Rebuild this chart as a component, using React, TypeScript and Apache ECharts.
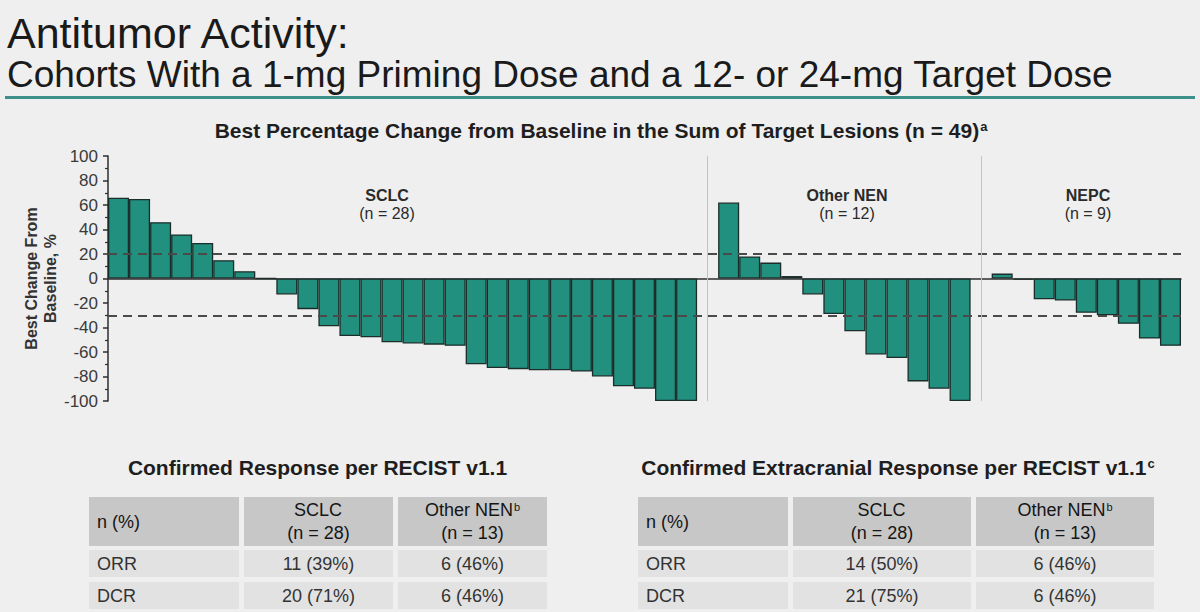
import React, { useEffect, useRef } from "react";
import * as echarts from "echarts";

const FONT = "'Liberation Sans', Arial, Helvetica, sans-serif";

// Best % change from baseline per patient, sorted within each cohort
const sclcChange = [66, 65, 46, 36, 29, 15, 6, 0, -13, -25, -39, -47, -48, -52, -53, -54, -55, -70, -73, -74, -75, -75, -76, -80, -88, -90, -100, -100];
const otherNenChange = [62, 18, 13, 2, -13, -29, -43, -62, -65, -84, -90, -100];
const nepcChange = [4, -1, -17, -18, -28, -30, -37, -49, -55];

const cohorts = [
  { name: "SCLC", n: 28 },
  { name: "Other NEN", n: 12 },
  { name: "NEPC", n: 9 },
];

// Response thresholds (PD +20%, PR -30%)
const thresholds = [20, -30];
const yMin = -100;
const yMax = 100;
const yStep = 20;

// Response tables
const tableCols = [
  { name: "SCLC", n: 28, note: "" },
  { name: "Other NEN", n: 13, note: "b" },
];
const rowLabels = ["ORR", "DCR"];
const recistRows = [
  ["11 (39%)", "6 (46%)"],
  ["20 (71%)", "6 (46%)"],
];
const extracranialRows = [
  ["14 (50%)", "6 (46%)"],
  ["21 (75%)", "6 (46%)"],
];

const BAR_FILL = "#21907f";
const BAR_EDGE = "#1b2d2a";
const BG = "#efefef";

function buildCategories() {
  const cats: string[] = [];
  const vals: (number | string)[] = [];
  const dividers: string[] = [];
  const groups = [sclcChange, otherNenChange, nepcChange];
  groups.forEach((g, gi) => {
    if (gi > 0) {
      const d = `divider-${gi}`;
      cats.push(d);
      vals.push("-");
      dividers.push(d);
    }
    g.forEach((v, i) => {
      cats.push(`${cohorts[gi].name}-${i + 1}`);
      vals.push(v);
    });
  });
  return { cats, vals, dividers };
}

function text(x: number, y: number, t: string, size: number, opts: any = {}) {
  return {
    type: "text",
    x,
    y,
    silent: true,
    style: {
      text: t,
      fontSize: size,
      fontFamily: FONT,
      fontWeight: opts.bold ? "bold" : "normal",
      fill: opts.color || "#222",
      align: opts.align || "left",
      verticalAlign: "middle",
      rich: opts.rich,
    },
  };
}

function supRich(size: number, bold: boolean, color: string, supSize: number) {
  return {
    m: { fontSize: size, fontWeight: bold ? "bold" : "normal", fontFamily: FONT, fill: color },
    s: { fontSize: supSize, fontWeight: bold ? "bold" : "normal", fontFamily: FONT, fill: color, verticalAlign: "top", padding: [0, 0, 0, 1] },
  };
}

function buildTable(x0: number, widths: number[], title: string, note: string, titleX: number, rows: string[][]) {
  const els: any[] = [];
  const gap = 5;
  const xs: number[] = [];
  let cx = x0;
  widths.forEach((w) => {
    xs.push(cx);
    cx += w + gap;
  });
  els.push(
    text(titleX, 467, `{m|${title}}{s|${note}}`, 21, {
      bold: true,
      align: "center",
      color: "#1e1e1e",
      rich: supRich(21, true, "#1e1e1e", 13),
    })
  );
  // header row
  const hy = 497;
  const hh = 49;
  widths.forEach((w, i) => {
    els.push({ type: "rect", silent: true, shape: { x: xs[i], y: hy, width: w, height: hh }, style: { fill: "#c7c7c7" } });
  });
  els.push(text(xs[0] + 8, hy + hh / 2, "n (%)", 18, { color: "#151515" }));
  tableCols.forEach((c, i) => {
    const mid = xs[i + 1] + widths[i + 1] / 2;
    els.push(
      text(mid, hy + 13, `{m|${c.name}}{s|${c.note}}`, 18, {
        align: "center",
        color: "#151515",
        rich: supRich(18, false, "#151515", 11),
      })
    );
    els.push(text(mid, hy + 36, `(n = ${c.n})`, 18, { align: "center", color: "#151515" }));
  });
  // body rows
  const rowY = [550, 582];
  const rh = 27;
  rows.forEach((r, ri) => {
    widths.forEach((w, i) => {
      els.push({ type: "rect", silent: true, shape: { x: xs[i], y: rowY[ri], width: w, height: rh }, style: { fill: "#e2e2e2" } });
    });
    els.push(text(xs[0] + 8, rowY[ri] + rh / 2, rowLabels[ri], 18, { color: "#333" }));
    r.forEach((v, ci) => {
      els.push(text(xs[ci + 1] + widths[ci + 1] / 2, rowY[ri] + rh / 2, v, 18, { align: "center", color: "#333" }));
    });
  });
  return els;
}

export default function App() {
  const ref = useRef<HTMLDivElement>(null);

  useEffect(() => {
    if (!ref.current) return;
    const chart = echarts.init(ref.current, null, { renderer: "svg" });
    const { cats, vals, dividers } = buildCategories();

    const cohortLabelPos = [387, 847, 1088];

    const graphics: any[] = [
      text(7, 33, "Antitumor Activity:", 43, { color: "#1a1a1a" }),
      text(7, 74, "Cohorts With a 1-mg Priming Dose and a 12- or 24-mg Target Dose", 37, { color: "#1a1a1a" }),
      { type: "rect", silent: true, shape: { x: 5, y: 96, width: 1190, height: 3 }, style: { fill: "#3d8f89" } },
      text(601, 130, "{m|Best Percentage Change from Baseline in the Sum of Target Lesions (n = 49)}{s|a}", 21, {
        bold: true,
        align: "center",
        color: "#1e1e1e",
        rich: supRich(21, true, "#1e1e1e", 13),
      }),
    ];
    cohorts.forEach((c, i) => {
      graphics.push(text(cohortLabelPos[i], 195, c.name, 16, { bold: true, align: "center", color: "#2a2a2a" }));
      graphics.push(text(cohortLabelPos[i], 213, `(n = ${c.n})`, 16, { align: "center", color: "#2a2a2a" }));
    });
    graphics.push(...buildTable(89, [150, 149, 149], "Confirmed Response per RECIST v1.1", "", 318, recistRows));
    graphics.push(...buildTable(638, [150, 178, 178], "Confirmed Extracranial Response per RECIST v1.1", "c", 898, extracranialRows));

    chart.setOption({
      animation: false,
      backgroundColor: BG,
      textStyle: { fontFamily: FONT },
      grid: { left: 108, right: 19, top: 156, bottom: 211, containLabel: false },
      xAxis: {
        type: "category",
        data: cats,
        boundaryGap: true,
        axisLine: { show: true, onZero: true, lineStyle: { color: "#2e2e2e", width: 1.5 } },
        axisTick: { show: false },
        axisLabel: { show: false },
        splitLine: { show: false },
      },
      yAxis: {
        type: "value",
        min: yMin,
        max: yMax,
        interval: yStep,
        name: "Best Change From\nBaseline, %",
        nameLocation: "middle",
        nameGap: 48,
        nameMoveOverlap: false,
        nameTextStyle: { fontSize: 16, fontWeight: "bold", color: "#333", lineHeight: 19, fontFamily: FONT },
        axisLine: { show: true, lineStyle: { color: "#2e2e2e", width: 1.5 } },
        axisTick: { show: true, length: 5, inside: false, lineStyle: { color: "#2e2e2e", width: 1.5 } },
        minorTick: { show: true, splitNumber: 2, length: 3, lineStyle: { color: "#2e2e2e", width: 1.2 } },
        axisLabel: { fontSize: 17, color: "#3a3a3a", margin: 10, fontFamily: FONT },
        splitLine: { show: false },
      },
      series: [
        {
          type: "bar",
          data: vals,
          barCategoryGap: "0%",
          itemStyle: { color: BAR_FILL, borderColor: BAR_EDGE, borderWidth: 1.3 },
          emphasis: { disabled: true },
          markLine: {
            silent: true,
            symbol: ["none", "none"],
            label: { show: false },
            data: [
              ...thresholds.map((t) => ({ yAxis: t, lineStyle: { type: [9, 6], color: "#4a4a4a", width: 2 } })),
              ...dividers.map((d) => ({ xAxis: d, lineStyle: { type: "solid", color: "#c2c2c2", width: 1 } })),
            ],
          },
        },
      ],
      graphic: graphics,
    });

    return () => chart.dispose();
  }, []);

  return (
    <div
      ref={ref}
      style={{ position: "absolute", left: 0, top: 0, width: 1200, height: 612, background: BG }}
    />
  );
}
